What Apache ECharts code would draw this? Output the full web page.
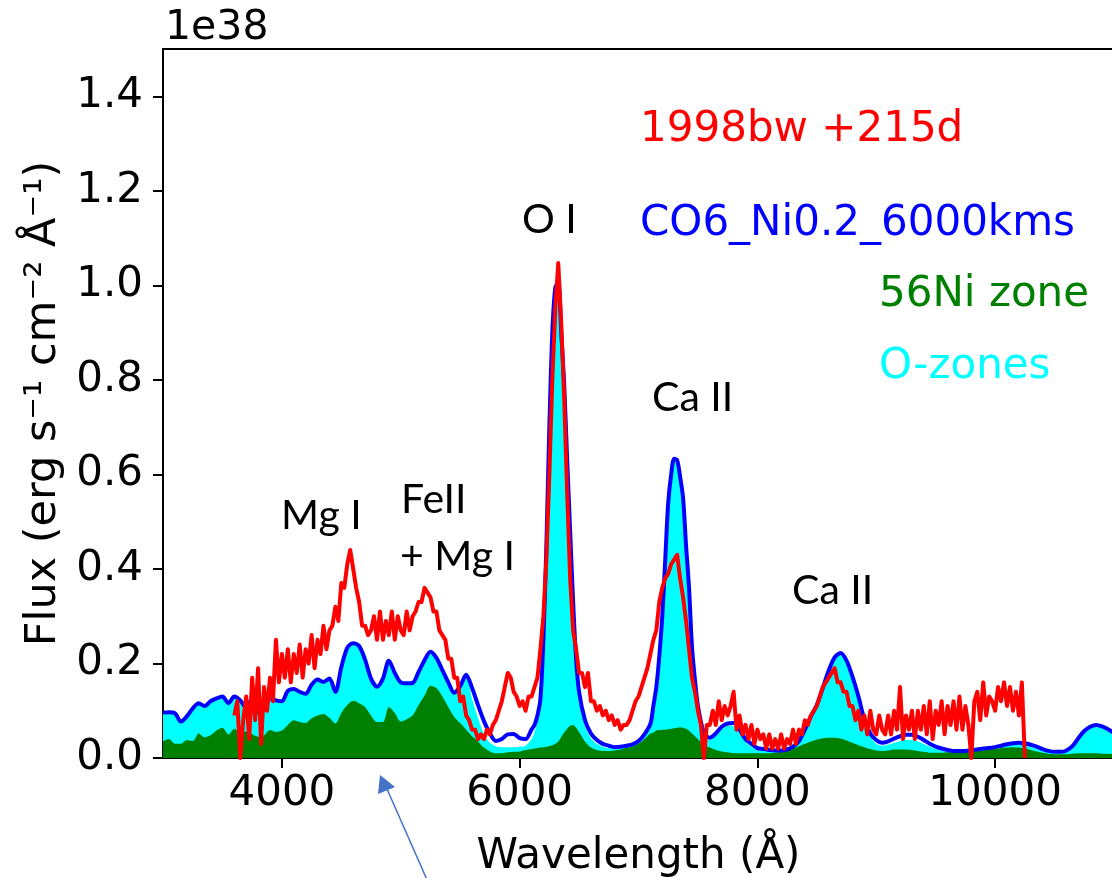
<!DOCTYPE html>
<html>
<head>
<meta charset="utf-8">
<title>SN 1998bw nebular spectrum vs. model</title>
<script src="https://cdn.jsdelivr.net/npm/echarts@6.0.0/dist/echarts.min.js"></script>
<style>
  html, body { margin: 0; padding: 0; overflow: hidden; background: #ffffff; }
  #chart { width: 1120px; height: 878px; }
</style>
</head>
<body>
<div id="chart"></div>
<script>
// ---- Model spectrum (flux in units of 1e38 erg/s/cm^2/A) ----
// Wavelength grid of the model (denser across the O I and Ca II peaks)
const modelWave = [
  3000, 3050, 3100, 3150, 3200, 3250, 3300, 3350, 3400, 3450,
  3500, 3550, 3600, 3650, 3700, 3750, 3800, 3850, 3900, 3950,
  4000, 4050, 4100, 4150, 4200, 4250, 4300, 4350, 4400, 4450,
  4500, 4550, 4600, 4650, 4700, 4750, 4800, 4850, 4900, 4950,
  5000, 5050, 5100, 5150, 5200, 5250, 5300, 5350, 5400, 5450,
  5500, 5550, 5600, 5650, 5700, 5750, 5800, 5850, 5900, 5950,
  6000, 6050, 6100,
  6125, 6150, 6175, 6200, 6225, 6250, 6275, 6300, 6325, 6350, 6375, 6400, 6425, 6450, 6475, 6500,
  6550, 6600, 6650, 6700, 6750, 6800, 6850, 6900, 6950, 7000, 7050, 7100,
  7125, 7150, 7175, 7200, 7225, 7250, 7275, 7300, 7325, 7350, 7375, 7400, 7425, 7450, 7475, 7500,
  7550, 7600, 7650, 7700, 7750, 7800, 7850, 7900, 7950, 8000,
  8050, 8100, 8150, 8200, 8250, 8300, 8350, 8400, 8450, 8500,
  8550, 8600, 8650, 8700, 8750, 8800, 8850, 8900, 8950, 9000,
  9050, 9100, 9150, 9200, 9250, 9300, 9350, 9400, 9450, 9500,
  9550, 9600, 9650, 9700, 9750, 9800, 9850, 9900, 9950, 10000,
  10050, 10100, 10150, 10200, 10250, 10300, 10350, 10400, 10450, 10500,
  10550, 10600, 10650, 10700, 10750, 10800, 10850, 10900, 10950, 11000
];

// Total model flux (CO6_Ni0.2_6000kms)
const modelTotal = [
  0.096, 0.097, 0.095, 0.077, 0.088, 0.105, 0.116, 0.110, 0.120, 0.126,
  0.130, 0.116, 0.130, 0.122, 0.106, 0.126, 0.097, 0.102, 0.126, 0.122,
  0.120, 0.142, 0.146, 0.140, 0.136, 0.155, 0.166, 0.161, 0.168, 0.140,
  0.192, 0.233, 0.243, 0.237, 0.208, 0.168, 0.151, 0.168, 0.206, 0.180,
  0.160, 0.158, 0.159, 0.182, 0.207, 0.225, 0.212, 0.186, 0.160, 0.138,
  0.152, 0.176, 0.148, 0.112, 0.078, 0.052, 0.036, 0.040, 0.050, 0.051,
  0.042, 0.040, 0.060,
  0.070, 0.090, 0.125, 0.250, 0.450, 0.700, 0.900, 0.995, 1.005, 0.900, 0.790, 0.630, 0.480, 0.330, 0.210, 0.140,
  0.080, 0.052, 0.038, 0.030, 0.026, 0.023, 0.024, 0.026, 0.029, 0.036, 0.050, 0.072,
  0.110, 0.150, 0.215, 0.300, 0.420, 0.540, 0.600, 0.633, 0.630, 0.595, 0.550, 0.450, 0.360, 0.235, 0.165, 0.110,
  0.054, 0.043, 0.052, 0.066, 0.073, 0.074, 0.060, 0.040, 0.030, 0.021,
  0.019, 0.017, 0.016, 0.016, 0.018, 0.024, 0.036, 0.060, 0.088, 0.112,
  0.148, 0.185, 0.213, 0.222, 0.206, 0.172, 0.130, 0.082, 0.052, 0.038,
  0.032, 0.035, 0.041, 0.046, 0.049, 0.049, 0.045, 0.038, 0.030, 0.024,
  0.020, 0.017, 0.015, 0.015, 0.015, 0.017, 0.018, 0.020, 0.021, 0.023,
  0.026, 0.029, 0.031, 0.032, 0.031, 0.028, 0.024, 0.019, 0.015, 0.013,
  0.013, 0.016, 0.025, 0.042, 0.057, 0.066, 0.070, 0.067, 0.061, 0.053
];

// Cumulative emission of the 56Ni zone plus the O-rich zones
const zonesNiO = [
  0.096, 0.097, 0.095, 0.077, 0.088, 0.105, 0.116, 0.110, 0.120, 0.126,
  0.130, 0.116, 0.130, 0.122, 0.106, 0.126, 0.097, 0.102, 0.126, 0.122,
  0.120, 0.142, 0.146, 0.140, 0.136, 0.155, 0.166, 0.161, 0.168, 0.140,
  0.192, 0.233, 0.243, 0.237, 0.208, 0.168, 0.151, 0.168, 0.206, 0.180,
  0.160, 0.158, 0.159, 0.182, 0.207, 0.225, 0.212, 0.186, 0.160, 0.138,
  0.152, 0.176, 0.125, 0.085, 0.050, 0.032, 0.025, 0.023, 0.023, 0.023,
  0.024, 0.026, 0.040,
  0.055, 0.080, 0.115, 0.245, 0.450, 0.700, 0.900, 0.995, 1.005, 0.900, 0.790, 0.630, 0.480, 0.330, 0.210, 0.140,
  0.068, 0.042, 0.030, 0.024, 0.021, 0.020, 0.022, 0.024, 0.027, 0.034, 0.045, 0.068,
  0.105, 0.150, 0.215, 0.300, 0.420, 0.540, 0.600, 0.633, 0.630, 0.595, 0.550, 0.450, 0.360, 0.235, 0.165, 0.105,
  0.050, 0.038, 0.048, 0.060, 0.068, 0.067, 0.053, 0.034, 0.024, 0.017,
  0.015, 0.014, 0.014, 0.015, 0.017, 0.022, 0.034, 0.058, 0.086, 0.110,
  0.146, 0.183, 0.211, 0.220, 0.204, 0.170, 0.128, 0.080, 0.046, 0.030,
  0.026, 0.028, 0.032, 0.036, 0.038, 0.038, 0.035, 0.030, 0.024, 0.019,
  0.016, 0.014, 0.013, 0.013, 0.013, 0.015, 0.016, 0.018, 0.019, 0.021,
  0.024, 0.026, 0.028, 0.028, 0.027, 0.024, 0.020, 0.016, 0.012, 0.011,
  0.011, 0.014, 0.024, 0.041, 0.056, 0.065, 0.069, 0.066, 0.060, 0.052
];

// Emission of the 56Ni zone alone
const zoneNi = [
  0.035, 0.040, 0.030, 0.030, 0.038, 0.036, 0.052, 0.044, 0.048, 0.058,
  0.064, 0.050, 0.062, 0.052, 0.056, 0.050, 0.045, 0.048, 0.059, 0.055,
  0.058, 0.070, 0.080, 0.076, 0.074, 0.084, 0.090, 0.093, 0.085, 0.073,
  0.095, 0.112, 0.121, 0.116, 0.108, 0.090, 0.076, 0.076, 0.108, 0.095,
  0.077, 0.082, 0.090, 0.112, 0.132, 0.153, 0.148, 0.130, 0.108, 0.087,
  0.074, 0.060, 0.046, 0.035, 0.022, 0.014, 0.010, 0.010, 0.012, 0.013,
  0.014, 0.017, 0.019,
  0.020, 0.021, 0.022, 0.023, 0.024, 0.025, 0.027, 0.030, 0.035, 0.045, 0.054, 0.062, 0.068, 0.070, 0.064, 0.055,
  0.035, 0.022, 0.017, 0.015, 0.015, 0.016, 0.018, 0.021, 0.024, 0.030, 0.040, 0.052,
  0.054, 0.058, 0.059, 0.060, 0.060, 0.061, 0.062, 0.063, 0.064, 0.065, 0.064, 0.062, 0.058, 0.052, 0.046, 0.040,
  0.028, 0.022, 0.017, 0.014, 0.012, 0.010, 0.010, 0.010, 0.010, 0.010,
  0.010, 0.010, 0.011, 0.013, 0.016, 0.020, 0.025, 0.030, 0.035, 0.039,
  0.042, 0.043, 0.043, 0.041, 0.037, 0.032, 0.027, 0.023, 0.019, 0.016,
  0.015, 0.016, 0.018, 0.018, 0.018, 0.017, 0.015, 0.013, 0.011, 0.011,
  0.011, 0.012, 0.012, 0.013, 0.013, 0.014, 0.015, 0.016, 0.018, 0.019,
  0.021, 0.022, 0.023, 0.022, 0.020, 0.017, 0.014, 0.011, 0.009, 0.008,
  0.008, 0.008, 0.009, 0.010, 0.010, 0.010, 0.010, 0.009, 0.009, 0.008
];

// ---- Observed spectrum of SN 1998bw at +215 d ----
const OBS_START = 3600;   // first wavelength (A)
const OBS_STEP = 25;      // sampling (A)
const obsFlux = [
  0.09, 0.12, 0.00, 0.08, 0.13, 0.04, 0.17, 0.08, 0.19, 0.03,
  0.15, 0.10, 0.17, 0.12, 0.25, 0.16, 0.22, 0.17, 0.23, 0.16,
  0.22, 0.18, 0.24, 0.17, 0.23, 0.20, 0.26, 0.19, 0.25, 0.22,
  0.28, 0.23, 0.27, 0.28, 0.32, 0.29, 0.37, 0.36, 0.41, 0.44,
  0.40, 0.36, 0.33, 0.28, 0.28, 0.26, 0.27, 0.30, 0.25, 0.31,
  0.25, 0.29, 0.26, 0.31, 0.25, 0.30, 0.27, 0.26, 0.31, 0.27,
  0.30, 0.31, 0.33, 0.33, 0.36, 0.35, 0.34, 0.31, 0.31, 0.27,
  0.26, 0.25, 0.21, 0.21, 0.17, 0.17, 0.12, 0.13, 0.09, 0.08,
  0.06, 0.06, 0.04, 0.05, 0.04, 0.06, 0.05, 0.07, 0.08, 0.10,
  0.12, 0.15, 0.18, 0.17, 0.14, 0.13, 0.11, 0.12, 0.10, 0.13,
  0.13, 0.15, 0.17, 0.23, 0.30, 0.42, 0.60, 0.80, 0.95, 1.047,
  0.92, 0.76, 0.56, 0.38, 0.27, 0.23, 0.18, 0.18, 0.15, 0.18,
  0.12, 0.12, 0.10, 0.11, 0.09, 0.10, 0.08, 0.09, 0.07, 0.08,
  0.06, 0.07, 0.07, 0.08, 0.10, 0.12, 0.13, 0.15, 0.17, 0.19,
  0.22, 0.25, 0.27, 0.33, 0.36, 0.38, 0.39, 0.41, 0.42, 0.43,
  0.38, 0.34, 0.29, 0.23, 0.17, 0.14, 0.10, 0.07, 0.00, 0.07,
  0.07, 0.10, 0.07, 0.12, 0.08, 0.11, 0.09, 0.11, 0.14, 0.06,
  0.09, 0.05, 0.07, 0.04, 0.07, 0.03, 0.06, 0.04, 0.05, 0.02,
  0.05, 0.02, 0.04, 0.02, 0.05, 0.02, 0.04, 0.03, 0.06, 0.03,
  0.06, 0.05, 0.08, 0.07, 0.09, 0.10, 0.11, 0.13, 0.15, 0.16,
  0.17, 0.18, 0.19, 0.16, 0.16, 0.14, 0.14, 0.11, 0.11, 0.08,
  0.10, 0.06, 0.09, 0.05, 0.10, 0.06, 0.05, 0.09, 0.06, 0.05,
  0.09, 0.05, 0.10, 0.06, 0.15, 0.04, 0.09, 0.06, 0.10, 0.04,
  0.10, 0.06, 0.11, 0.05, 0.12, 0.04, 0.10, 0.07, 0.12, 0.05,
  0.11, 0.07, 0.12, 0.06, 0.13, 0.06, 0.11, 0.07, 0.00, 0.12,
  0.14, 0.08, 0.16, 0.09, 0.13, 0.12, 0.10, 0.15, 0.12, 0.16,
  0.11, 0.15, 0.10, 0.14, 0.09, 0.16, 0.00
];

// ---- Axis ticks ----
const xTickValues = [4000, 6000, 8000, 10000];
const yTickValues = [0, 0.2, 0.4, 0.6, 0.8, 1.0, 1.2, 1.4];

const toPairs = (xs, ys) => xs.map((x, i) => [x, ys[i]]);
const obsPairs = obsFlux.map((v, i) => [OBS_START + i * OBS_STEP, v]);

const MPL_FONT = 'DejaVu Sans';

function label(text, x, y, font, color) {
  return {
    type: 'text', x: x, y: y, silent: true,
    style: { text: text, font: font, fill: color, textAlign: 'left', textVerticalAlign: 'middle' }
  };
}

const chart = echarts.init(document.getElementById('chart'), null, { renderer: 'canvas' });

chart.setOption({
  backgroundColor: '#ffffff',
  animation: false,
  grid: {
    left: 163, top: 49, width: 951, height: 709,
    containLabel: false, outerBoundsMode: 'none',
    show: true, borderColor: '#000000', borderWidth: 2, backgroundColor: 'transparent'
  },
  xAxis: {
    type: 'value', min: 3000, max: 11000,
    axisLine: { show: true, lineStyle: { color: '#000000', width: 2 } },
    axisTick: { show: true, length: 10, lineStyle: { color: '#000000', width: 2 }, customValues: xTickValues },
    axisLabel: {
      customValues: xTickValues, margin: 15,
      formatter: v => String(v),
      fontFamily: MPL_FONT, fontSize: 42, color: '#000000'
    },
    splitLine: { show: false },
    name: 'Wavelength (Å)', nameLocation: 'middle', nameGap: 78,
    nameTextStyle: { fontFamily: MPL_FONT, fontSize: 42, color: '#000000' }
  },
  yAxis: {
    type: 'value', min: 0, max: 1.5,
    axisLine: { show: true, lineStyle: { color: '#000000', width: 2 } },
    axisTick: { show: true, length: 10, lineStyle: { color: '#000000', width: 2 }, customValues: yTickValues },
    axisLabel: {
      customValues: yTickValues, margin: 20,
      formatter: v => v.toFixed(1),
      fontFamily: MPL_FONT, fontSize: 42, color: '#000000'
    },
    splitLine: { show: false },
    name: 'Flux (erg s⁻¹ cm⁻² Å⁻¹)', nameLocation: 'middle', nameGap: 92,
    nameTextStyle: { fontFamily: MPL_FONT, fontSize: 43, color: '#000000' }
  },
  series: [
    {
      name: 'O-zones', type: 'line', data: toPairs(modelWave, zonesNiO),
      showSymbol: false, smooth: 0.3, silent: true, z: 2,
      lineStyle: { width: 0 }, itemStyle: { color: '#00ffff' },
      areaStyle: { color: '#00ffff', opacity: 1 }
    },
    {
      name: '56Ni zone', type: 'line', data: toPairs(modelWave, zoneNi),
      showSymbol: false, smooth: 0.3, silent: true, z: 3,
      lineStyle: { width: 0 }, itemStyle: { color: '#008000' },
      areaStyle: { color: '#008000', opacity: 1 }
    },
    {
      name: 'CO6_Ni0.2_6000kms', type: 'line', data: toPairs(modelWave, modelTotal),
      showSymbol: false, smooth: 0.3, silent: true, z: 4,
      lineStyle: { width: 4, color: '#0000ff' }, itemStyle: { color: '#0000ff' }
    },
    {
      name: '1998bw +215d', type: 'line', data: obsPairs,
      showSymbol: false, silent: true, z: 5,
      lineStyle: { width: 4, color: '#ff0000', join: 'round' }, itemStyle: { color: '#ff0000' }
    }
  ],
  graphic: [
    // axis offset text
    label('1e38', 165, 28, '41px "DejaVu Sans"', '#000000'),
    // series captions
    label('1998bw +215d', 640, 130, '42px "DejaVu Sans"', '#ff0000'),
    label('CO6_Ni0.2_6000kms', 640, 224, '42px "DejaVu Sans"', '#0000ff'),
    label('56Ni zone', 879, 295, '42px "DejaVu Sans"', '#008000'),
    label('O-zones', 879, 367, '42px "DejaVu Sans"', '#00ffff'),
    // line identifications
    label('Mg I', 281, 516, '41px Lato', '#000000'),
    label('FeII', 401, 500, '41px Lato', '#000000'),
    label('+ Mg I', 400, 557, '41px Lato', '#000000'),
    label('O I', 522, 220, '41px Lato', '#000000'),
    label('Ca II', 652, 398, '41px Lato', '#000000'),
    label('Ca II', 792, 591, '41px Lato', '#000000'),
    // pointer arrow below the axis
    {
      type: 'line', silent: true,
      shape: { x1: 428, y1: 882, x2: 387, y2: 789 },
      style: { stroke: '#4472c4', lineWidth: 1.5 }
    },
    {
      type: 'polygon', silent: true,
      shape: { points: [[380, 775], [378, 794], [395, 787]] },
      style: { fill: '#4472c4' }
    }
  ]
});
</script>
</body>
</html>
